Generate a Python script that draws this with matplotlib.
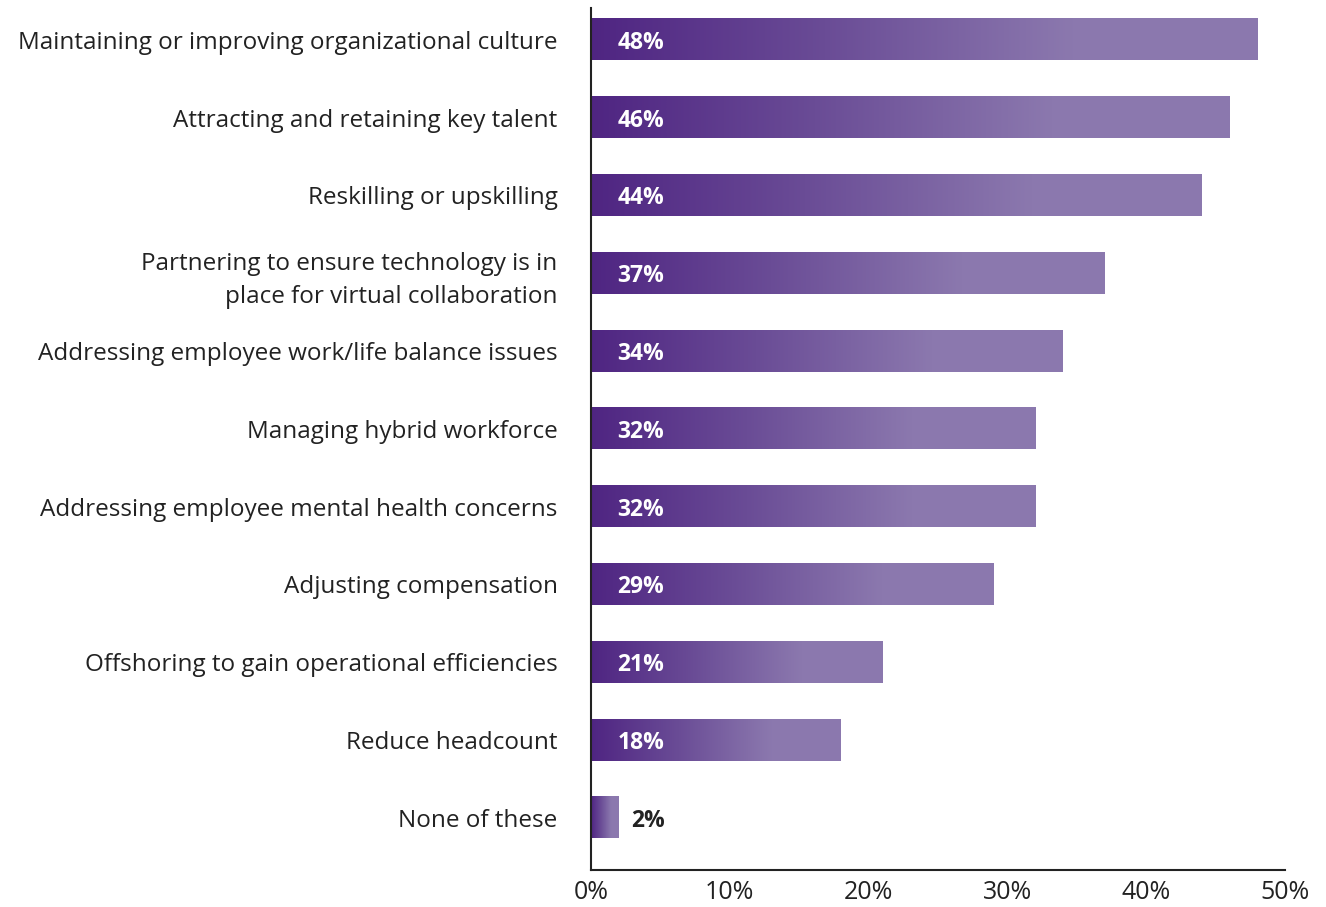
import numpy as np
import matplotlib.pyplot as plt
from matplotlib.colors import LinearSegmentedColormap

categories = [
    "Maintaining or improving organizational culture",
    "Attracting and retaining key talent",
    "Reskilling or upskilling",
    "Partnering to ensure technology is in\nplace for virtual collaboration",
    "Addressing employee work/life balance issues",
    "Managing hybrid workforce",
    "Addressing employee mental health concerns",
    "Adjusting compensation",
    "Offshoring to gain operational efficiencies",
    "Reduce headcount",
    "None of these",
]
values = [48, 46, 44, 37, 34, 32, 32, 29, 21, 18, 2]
xticks = [0, 10, 20, 30, 40, 50]

plt.rcParams['font.family'] = ['Open Sans', 'DejaVu Sans']

cmap = LinearSegmentedColormap.from_list(
    "purp", [(0.0, "#4f2582"), (0.35, "#6a4c96"), (0.72, "#8b78ae"), (1.0, "#8c79af")])
grad = np.linspace(0, 1, 256).reshape(1, -1)

fig = plt.figure(figsize=(13.26, 9.07), dpi=100)
ax = fig.add_axes([0.4457, 0.0408, 0.5234, 0.9504])

h = 0.53
for i, v in enumerate(values):
    ax.imshow(grad, cmap=cmap, aspect='auto', interpolation='bicubic',
              extent=[0, v, i + h / 2, i - h / 2], zorder=2)
    if v > 5:
        ax.text(1.9, i, f"{v}%", va='center_baseline', ha='left', color='white',
                fontsize=16.5, fontweight='bold', zorder=3)
    else:
        ax.text(v + 0.9, i, f"{v}%", va='center_baseline', ha='left', color='#222222',
                fontsize=16.5, fontweight='bold', zorder=3)

ax.set_xlim(0, 50)
ax.set_ylim(len(values) - 1 + 0.67, -0.41)
ax.set_yticks(range(len(values)))
ax.set_yticklabels(categories, fontsize=17.5, color='#222222', linespacing=1.5)
ax.set_xticks(xticks)
ax.set_xticklabels([f"{t}%" for t in xticks], fontsize=18, color='#222222')
ax.tick_params(axis='both', length=0)
ax.tick_params(axis='y', pad=24)
ax.tick_params(axis='x', pad=7)
for s in ['top', 'right']:
    ax.spines[s].set_visible(False)
for s in ['left', 'bottom']:
    ax.spines[s].set_linewidth(1.5)
    ax.spines[s].set_color('#222222')

fig.savefig("out.png", dpi=100)
